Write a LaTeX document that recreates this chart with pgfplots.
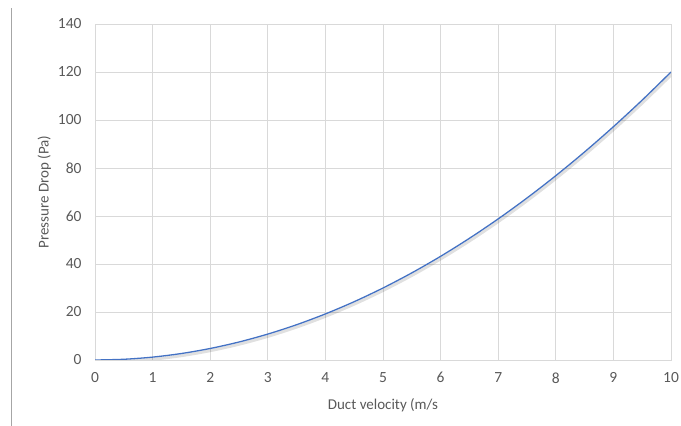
\documentclass[border=0pt]{standalone}
\usepackage{pgfplots}
\pgfplotsset{compat=1.18}
\usepackage{fontspec}
\setmainfont{Carlito}
\definecolor{txt}{HTML}{595959}
\definecolor{grid}{HTML}{D9D9D9}
\definecolor{line}{HTML}{4472C4}
\begin{document}
\begin{tikzpicture}[x=1pt,y=1pt]
\useasboundingbox (0,0) rectangle (681,426);
% thin rule at the left edge
\draw[color=black!35, line width=0.8pt] (11,0) -- (11,418);
\begin{axis}[
    at={(95pt,66pt)}, anchor=south west,
    scale only axis,
    width=576pt, height=336pt,
    xmin=0, xmax=10,
    ymin=0, ymax=140,
    xtick={0,1,...,10},
    ytick={0,20,...,140},
    grid=major,
    grid style={color=grid, line width=0.8pt},
    axis line style={color=grid, line width=0.8pt},
    major tick length=0pt,
    tick label style={font=\fontsize{15.5}{17}\selectfont, color=txt},
    /pgf/number format/assume math mode=true,
    xticklabel style={yshift=-9pt},
    yticklabel style={xshift=-10pt},
    xlabel={Duct velocity (m/s},
    ylabel={Pressure Drop (Pa)},
    label style={font=\fontsize{15}{17}\selectfont, color=txt},
    xlabel style={yshift=-8pt},
    ylabel style={yshift=0pt},
]
% soft shadow under the curve
\addplot[smooth, color=black, opacity=0.12, line width=3pt, yshift=-2pt, xshift=1pt, forget plot]
coordinates {(0,0) (0.5,0.3) (1,1.2) (1.5,2.7) (2,4.8) (2.5,7.5) (3,10.8) (3.5,14.7) (4,19.2) (4.5,24.3) (5,30) (5.5,36.3) (6,43.2) (6.5,50.7) (7,58.8) (7.5,67.5) (8,76.8) (8.5,86.7) (9,97.2) (9.5,108.3) (10,120)};
\addplot[smooth, color=line, line width=1.3pt]
coordinates {(0,0) (0.5,0.3) (1,1.2) (1.5,2.7) (2,4.8) (2.5,7.5) (3,10.8) (3.5,14.7) (4,19.2) (4.5,24.3) (5,30) (5.5,36.3) (6,43.2) (6.5,50.7) (7,58.8) (7.5,67.5) (8,76.8) (8.5,86.7) (9,97.2) (9.5,108.3) (10,120)};
\end{axis}
\end{tikzpicture}
\end{document}
